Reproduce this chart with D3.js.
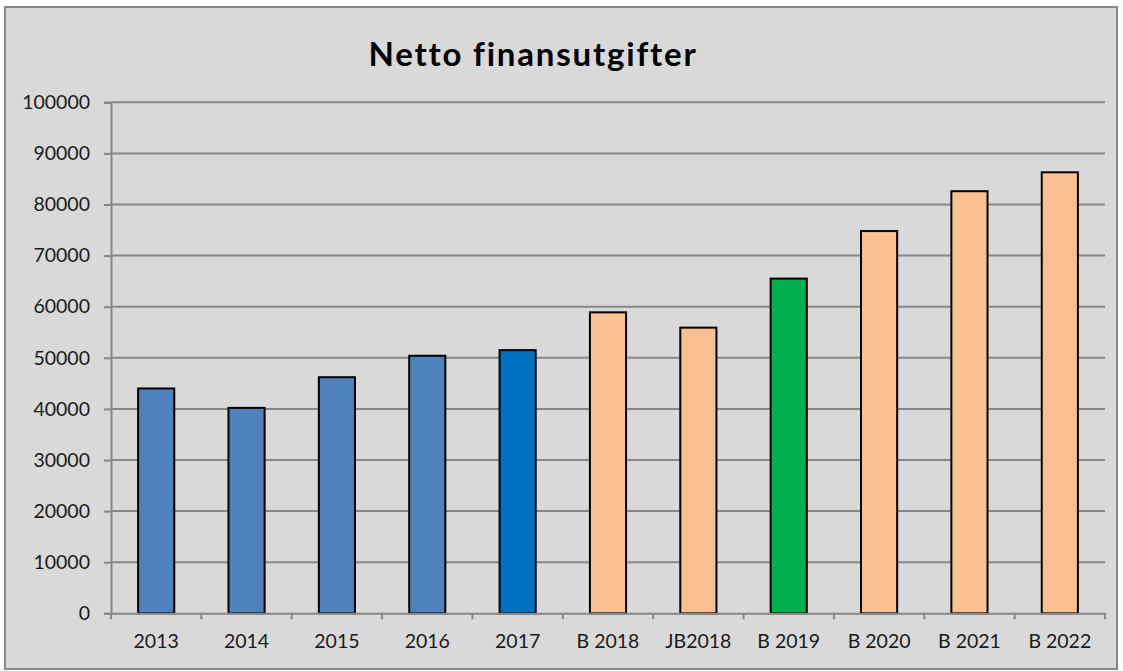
<!DOCTYPE html>
<html>
<head>
<meta charset="utf-8">
<script src="https://cdn.jsdelivr.net/npm/d3@7"></script>
<style>
  body { margin: 0; background: #fff; }
  svg { display: block; }
</style>
</head>
<body>
<div id="chart"></div>
<script>
// Data
const categories = ['2013', '2014', '2015', '2016', '2017', 'B 2018', 'JB2018', 'B 2019', 'B 2020', 'B 2021', 'B 2022'];
const values = [44000, 40200, 46200, 50400, 51500, 58900, 55900, 65500, 74800, 82600, 86300];
const barColors = ['#4F81BD', '#4F81BD', '#4F81BD', '#4F81BD', '#0070C0', '#FAC090', '#FAC090', '#00B050', '#FAC090', '#FAC090', '#FAC090'];
const yTicks = [0, 10000, 20000, 30000, 40000, 50000, 60000, 70000, 80000, 90000, 100000];

const W = 1123, H = 671;
const plot = {left: 111, right: 1105, top: 102.3, bottom: 613.3};
const font = 'Lato, Carlito, Calibri, sans-serif';

const svg = d3.select('#chart')
    .append('svg')
    .attr('width', W)
    .attr('height', H);

// Chart frame
svg.append('rect')
    .attr('x', 5).attr('y', 7)
    .attr('width', 1112).attr('height', 662)
    .attr('fill', '#D9D9D9')
    .attr('stroke', '#888888')
    .attr('stroke-width', 2);

// Title
svg.append('text')
    .attr('x', 533)
    .attr('y', 66)
    .attr('text-anchor', 'middle')
    .attr('font-family', font)
    .attr('font-weight', 'bold')
    .attr('font-size', 33)
    .attr('letter-spacing', 1.8)
    .style('font-variant-ligatures', 'none')
    .attr('fill', '#000')
    .text('Netto finansutgifter');

// Scales
const x = d3.scaleBand()
    .domain(categories)
    .range([plot.left, plot.right])
    .paddingInner(0.6)
    .paddingOuter(0.3);

const y = d3.scaleLinear()
    .domain([0, 100000])
    .range([plot.bottom, plot.top]);

// Gridlines
svg.append('g')
    .selectAll('line')
    .data(yTicks.filter(d => d > 0))
    .enter().append('line')
    .attr('x1', plot.left).attr('x2', plot.right)
    .attr('y1', d => y(d)).attr('y2', d => y(d))
    .attr('stroke', '#878787')
    .attr('stroke-width', 2);

// Y axis
const yAxis = svg.append('g')
    .attr('transform', `translate(${plot.left},0)`)
    .call(d3.axisLeft(y).tickValues(yTicks).tickSize(7).tickPadding(14).tickFormat(d3.format('d')));
yAxis.select('.domain').attr('stroke', '#878787').attr('stroke-width', 2);
yAxis.selectAll('.tick line').attr('stroke', '#878787').attr('stroke-width', 2);
yAxis.selectAll('.tick text')
    .attr('font-family', font)
    .attr('font-size', 19.5)
    .attr('fill', '#1a1a1a');

// Bars
svg.append('g')
    .selectAll('rect')
    .data(categories)
    .enter().append('rect')
    .attr('x', d => x(d))
    .attr('y', (d, i) => y(values[i]))
    .attr('width', x.bandwidth())
    .attr('height', (d, i) => y(0) - y(values[i]))
    .attr('fill', (d, i) => barColors[i])
    .attr('stroke', '#000')
    .attr('stroke-width', 2);

// X axis
const xAxis = svg.append('g')
    .attr('transform', `translate(0,${plot.bottom})`)
    .call(d3.axisBottom(x).tickSize(0).tickPadding(21));
xAxis.select('.domain').attr('stroke', '#878787').attr('stroke-width', 2);
xAxis.selectAll('.tick text')
    .attr('font-family', font)
    .attr('font-size', 19.5)
    .attr('fill', '#1a1a1a');

// Category separator ticks
const step = x.step();
const sepTicks = d3.range(categories.length + 1).map(i => plot.left + i * step);
svg.append('g')
    .selectAll('line')
    .data(sepTicks)
    .enter().append('line')
    .attr('x1', d => d).attr('x2', d => d)
    .attr('y1', plot.bottom).attr('y2', plot.bottom + 6)
    .attr('stroke', '#878787')
    .attr('stroke-width', 2);
</script>
</body>
</html>
